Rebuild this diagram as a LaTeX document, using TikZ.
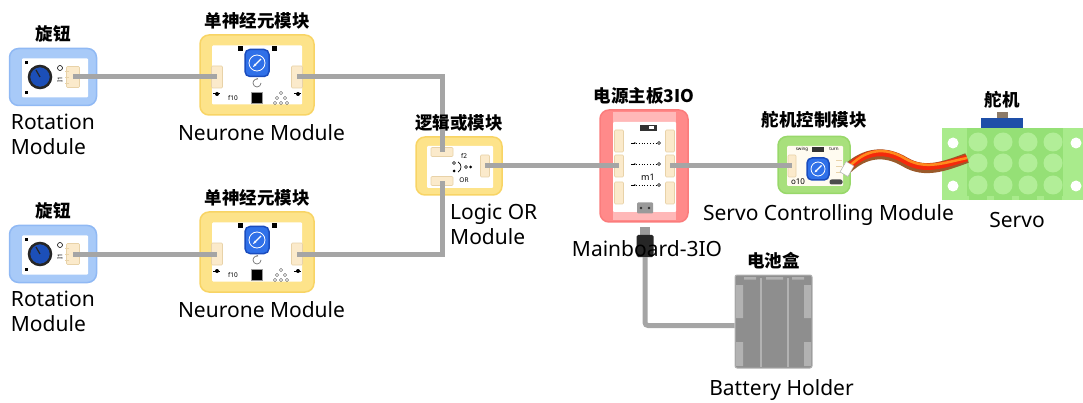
\documentclass[tikz,border=0pt]{standalone}
\usepackage{fontspec}
\setmainfont{Noto Sans}
\newfontfamily\cjk{Noto Sans CJK SC}
\usepackage{tikz}
\usetikzlibrary{positioning, arrows.meta, calc}

\definecolor{rotblue}{HTML}{A8CAF8}
\definecolor{rotedge}{HTML}{90B9F4}
\definecolor{neuyel}{HTML}{FDE38A}
\definecolor{neuedge}{HTML}{F8D465}
\definecolor{mainred}{HTML}{FF8A8A}
\definecolor{mainedge}{HTML}{FB7C7C}
\definecolor{mainpale}{HTML}{FFB8B8}
\definecolor{ctrlgreen}{HTML}{A8E07C}
\definecolor{ctrledge}{HTML}{98D86A}
\definecolor{ctrlpanel}{HTML}{FFFBF0}
\definecolor{servogreen}{HTML}{A9EB8C}
\definecolor{servodark}{HTML}{95E076}
\definecolor{servodot}{HTML}{B2EE98}
\definecolor{servoblue}{HTML}{1E4FA8}
\definecolor{servobrown}{HTML}{8C7A68}
\definecolor{wiregrey}{HTML}{A5A5A5}
\definecolor{connbeige}{HTML}{FBEACB}
\definecolor{connedge}{HTML}{E8D2A8}
\definecolor{btnblue}{HTML}{2F70E8}
\definecolor{btnedge}{HTML}{1A4CBE}
\definecolor{knobblue}{HTML}{1C4FB8}
\definecolor{battgrey}{HTML}{8E8E8E}
\definecolor{battlight}{HTML}{B2B2B2}
\definecolor{plugrey}{HTML}{9A9A9A}
\definecolor{cablebrown}{HTML}{9A5A2A}
\definecolor{cablered}{HTML}{F42A0C}
\definecolor{cableorange}{HTML}{FF8A1E}

\begin{document}
\begin{tikzpicture}[x=1pt, y=-1pt,
    frame/.style={rounded corners=9pt, inner sep=0pt, line width=1.5pt},
    panel/.style={fill=white, inner sep=0pt, rounded corners=1pt},
    conn/.style={fill=connbeige, draw=connedge, line width=0.6pt, inner sep=0pt, rounded corners=1pt},
    btn/.style={fill=btnblue, draw=btnedge, line width=1.5pt, rounded corners=5pt, minimum size=26pt, inner sep=0pt},
    wire/.style={draw=wiregrey, line width=5pt},
    cnlabel/.style={font=\cjk\bfseries\fontsize{17.5}{20}\selectfont, inner sep=0pt},
    enlabel/.style={font=\fontsize{21}{25}\selectfont, inner sep=0pt, align=center},
    tiny/.style={font=\bfseries\fontsize{6.5}{7}\selectfont, inner sep=0pt},
]
\useasboundingbox (0,0) rectangle (1083,403);

% --- Rotation and neurone rows ---
\foreach \i/\y in {1/77, 2/254} {
  % rotation module
  \node[frame, fill=rotblue, draw=rotedge, minimum width=87pt, minimum height=57pt] (rot\i) at (53,\y) {};
  \node[panel, minimum width=66pt, minimum height=39pt] at ($(rot\i)+(2,1)$) {};
  \draw[black!85, line width=2.5pt, fill=knobblue] ($(rot\i)+(-13,0)$) circle (11);
  \draw[black!85, line width=1.2pt] ($(rot\i)+(-13,0)$) -- ++(-4,-7);
  \fill ($(rot\i)+(-28,-16)$) rectangle ++(3,3);
  \fill ($(rot\i)+(-28,14)$) rectangle ++(3,3);
  \node[tiny, rotate=90] at ($(rot\i)+(7,3)$) {I1};
  \draw[line width=0.6pt] ($(rot\i)+(7,-9)$) circle (2.5);
  \node[conn, minimum width=13pt, minimum height=21pt] (rotc\i) at ($(rot\i)+(20,0)$) {};
  \foreach \d in {-6,0,6}
    \draw[connedge, line width=0.8pt] ($(rotc\i)+(-4,\d)$) -- ++(-4,0);

  % neurone module
  \node[frame, fill=neuyel, draw=neuedge, minimum width=114pt, minimum height=80pt] (neu\i) at (257,\y-2) {};
  \node[panel, minimum width=90pt, minimum height=59pt] at (neu\i) {};
  \node[btn, minimum width=24pt, minimum height=27pt] (btn\i) at ($(neu\i)+(0,-12)$) {};
  \draw[white, line width=0.8pt] (btn\i) circle (8);
  \draw[white, line width=1.2pt, -{Stealth[length=3.5pt]}] ($(btn\i)+(4,-4)$) -- ($(btn\i)+(-4,4)$);
  \fill ($(neu\i)+(-19.5,-28.5)$) rectangle ++(5,5);
  \fill ($(neu\i)+(14.5,-28.5)$) rectangle ++(5,5);
  \draw[black!55, line width=0.7pt, -{Stealth[length=2pt]}] ($(neu\i)+(4,8)$) arc[start angle=0, end angle=290, radius=4];
  \node[tiny] at ($(neu\i)+(-24,23)$) {f10};
  \node[fill=black, draw=black!40, minimum size=11pt, inner sep=0pt] at ($(neu\i)+(0,23)$) {};
  \foreach \px/\py in {0/-5, -4/0, 4/0, -6/5, 0/5, 6/5}
    \draw[black!70, line width=0.4pt] ($(neu\i)+(24+\px,23+\py)$) circle (1.6);
  \node[conn, minimum width=11pt, minimum height=22pt] (neul\i) at ($(neu\i)+(-40,2)$) {};
  \node[conn, minimum width=11pt, minimum height=22pt] (neur\i) at ($(neu\i)+(40,2)$) {};
  \draw[line width=1pt] ($(neul\i)+(-4,17)$) -- ++(7,0);
  \fill ($(neul\i)+(0,17)$) circle (2);
  \draw[line width=1pt] ($(neur\i)+(-3,17)$) -- ++(7,0);
  \fill ($(neur\i)+(1,17)$) circle (2);
}

% --- Logic OR ---
\node[frame, fill=neuyel, draw=neuedge, minimum width=86pt, minimum height=58pt] (lor) at (459,166) {};
\node[panel, minimum width=66pt, minimum height=42pt] at ($(lor)+(1,1)$) {};
\node[conn, minimum width=22pt, minimum height=9pt] (lort) at (442,152) {};
\node[conn, minimum width=22pt, minimum height=9pt] (lorb) at (442,181) {};
\node[conn, minimum width=9pt, minimum height=22pt] (lorr) at (485,166) {};
\node[tiny] at (464,156) {f2};
\node[tiny] at (464,180) {OR};
\draw[line width=0.5pt] (454,163) circle (1.5);
\fill (454,171) circle (1.5);
\draw[line width=0.7pt] (458,162) .. controls (462,164) and (462,170) .. (458,172);
\draw[line width=0.6pt] (466,167) circle (1.5);
\fill (470.5,167) circle (1.5);

% --- Mainboard ---
\node[frame, fill=mainred, draw=mainedge, minimum width=88pt, minimum height=112pt] (mainb) at (644,166) {};
\node[fill=mainpale, inner sep=0pt, minimum width=63pt, minimum height=108pt] at (644.5,166) {};
\node[panel, minimum width=63pt, minimum height=90pt] at (644.5,167) {};
\foreach \j/\cy in {a/141, b/166, c/193} {
  \node[conn, minimum width=9pt, minimum height=22pt] (mainl\j) at (619,\cy) {};
  \node[conn, minimum width=9pt, minimum height=22pt] (mainr\j) at (670,\cy) {};
}
\node[fill=black!80, minimum width=17pt, minimum height=6pt, inner sep=0pt] at (648,128) {};
\fill[white] (649,126.5) rectangle (654,129.5);
\foreach \cy in {143,164,185} {
  \draw[dotted, line width=0.8pt] (636,\cy) -- (656,\cy);
  \draw[line width=0.6pt, -{Stealth[length=2pt]}] (631,\cy) -- (636,\cy);
  \draw[line width=0.6pt] (659,\cy) circle (1.5);
}
\node[font=\bfseries\fontsize{9}{9}\selectfont, inner sep=0pt] at (648,177) {m1};
\node[fill=plugrey, minimum width=16pt, minimum height=11pt, inner sep=0pt, rounded corners=1pt] (mainp) at (645,208) {};
\fill[black!80] (641,208) circle (1.3) (649,208) circle (1.3);
\node[fill=plugrey, minimum width=10pt, minimum height=8pt, inner sep=0pt] (neck) at (645,231) {};
\node[fill=black!85, minimum width=17pt, minimum height=22pt, inner sep=0pt, rounded corners=1.5pt] (plug) at (645,246) {};

% --- Servo controller ---
\node[frame, fill=ctrlgreen, draw=ctrledge, minimum width=72pt, minimum height=57pt] (sctrl) at (814,165) {};
\node[panel, fill=ctrlpanel, minimum width=56pt, minimum height=40pt] at (815,166) {};
\node[conn, minimum width=8pt, minimum height=22pt] (sctrll) at (792,166) {};
\foreach \d in {-6,0,6}
  \draw[connedge, line width=0.8pt] (836,166+\d) -- ++(6,0);
\node[btn, minimum size=22pt] (sbtn) at (818,169) {};
\draw[white, line width=0.8pt] (sbtn) circle (7);
\draw[white, line width=1.1pt, -{Stealth[length=3pt]}] ($(sbtn)+(3.5,-3.5)$) -- ($(sbtn)+(-3.5,3.5)$);
\node[font=\bfseries\fontsize{4.5}{5}\selectfont, inner sep=0pt] at (802,149) {swing};
\node[font=\bfseries\fontsize{4.5}{5}\selectfont, inner sep=0pt] at (834,149) {turn};
\node[fill=black!80, minimum width=12pt, minimum height=5pt, inner sep=0pt] at (818,150) {};
\node[font=\bfseries\fontsize{8}{8}\selectfont, inner sep=0pt] at (798,182) {o10};
\node[fill=black!70, rounded corners=2pt, minimum width=13pt, minimum height=5pt, inner sep=0pt] at (836,182) {};
\node[fill=white, draw=gray!60, minimum width=9pt, minimum height=12pt, inner sep=0pt, rotate=-30] (sctrlp) at (847,169) {};

% --- Servo ---
\node[fill=servogreen, minimum width=141pt, minimum height=72pt, inner sep=0pt] (servo) at (1012.5,164) {};
\fill[servodark] (967,128) rectangle (1063,196);
\foreach \bx in {978,1003,1028,1053}
  \fill[servodark] (\bx-9,196) rectangle (\bx+9,200);
\foreach \bx in {978,1003,1028,1053}
  \foreach \by in {142,163,185}
    \fill[servodot] (\bx,\by) circle (9.5);
\foreach \hx in {953,1076}
  \foreach \hy in {143,186}
    \fill[white] (\hx,\hy) circle (5.5);
\node[fill=servoblue, minimum width=42pt, minimum height=10pt, inner sep=0pt] (servotop) at (1002,123) {};
\node[fill=servobrown, minimum width=11pt, minimum height=6pt, inner sep=0pt, above=0pt of servotop] (servocap) {};
\coordinate (servoin) at (967,158);

% servo lead
\draw[cablebrown, line width=10pt] (sctrlp.center) .. controls (865,152) and (885,150) .. (905,162) .. controls (925,174) and (945,166) .. (servoin);
\draw[cablered, line width=6.5pt, yshift=1.5pt] (sctrlp.center) .. controls (865,152) and (885,150) .. (905,162) .. controls (925,174) and (945,166) .. (servoin);
\draw[cableorange, line width=2.5pt, yshift=3.5pt] (sctrlp.center) .. controls (865,152) and (885,150) .. (905,162) .. controls (925,174) and (945,166) .. (servoin);
\node[fill=white, draw=gray!60, minimum width=9pt, minimum height=12pt, inner sep=0pt, rotate=-30] at (sctrlp) {};

% --- Battery holder ---
\node[fill=battgrey, draw=battlight, line width=1pt, minimum width=77pt, minimum height=93pt, inner sep=0pt, rounded corners=2pt] (batt) at (773.5,321.5) {};
\draw[battlight, line width=1.2pt] (761,278) -- (761,367) (788,278) -- (788,367);
\fill[battlight] (736,285) rectangle (743,318) (736,342) rectangle (743,366)
  (804,285) rectangle (811,318) (804,342) rectangle (811,366);
\fill[battlight] (744,277) rectangle (756,279.5) (766,277) rectangle (783,279.5) (792,277) rectangle (804,279.5);

% --- Wires ---
\draw[wire] (rotc1.center) -- (neul1.center);
\draw[wire] (rotc2.center) -- (neul2.center);
\draw[wire] (neur1.center) -| (lort.center);
\draw[wire] (neur2.center) -| (lorb.center);
\draw[wire] (lorr.center) -- (mainlb.center);
\draw[wire] (mainrb.center) -- (sctrll.center);
\draw[wire, rounded corners=3pt] (plug.south) |- ($(batt.west)+(0,4)$);

% --- Labels ---
\node[cnlabel, above=5pt of rot1] {旋钮};
\node[cnlabel, above=5pt of rot2] {旋钮};
\node[cnlabel, above=5pt of neu1] {单神经元模块};
\node[cnlabel, above=5pt of neu2] {单神经元模块};
\node[cnlabel, above=5pt of lor] {逻辑或模块};
\node[cnlabel, above=5pt of mainb] {电源主板3IO};
\node[cnlabel, above=7pt of sctrl] {舵机控制模块};
\node[cnlabel, above=3pt of servocap] {舵机};
\node[cnlabel, above=5pt of batt] {电池盒};

\node[enlabel, align=left, below=8pt of rot1.south west, anchor=north west, xshift=2pt] {Rotation\\Module};
\node[enlabel, align=left, below=8pt of rot2.south west, anchor=north west, xshift=2pt] {Rotation\\Module};
\node[enlabel, below=8.5pt of neu1, xshift=4.5pt] {Neurone Module};
\node[enlabel, below=8.5pt of neu2, xshift=4.5pt] {Neurone Module};
\node[enlabel, align=left, below=8.5pt of lor.south, anchor=north west, xshift=-9pt] {Logic OR\\Module};
\node[enlabel, below=17.5pt of mainb, xshift=3pt] {Mainboard-3IO};
\node[enlabel, below=10pt of sctrl, xshift=14.5pt] {Servo Controlling Module};
\node[enlabel, below=11.5pt of servo, xshift=4.5pt] {Servo};
\node[enlabel, below=10.5pt of batt, xshift=8pt] {Battery Holder};
\end{tikzpicture}
\end{document}
